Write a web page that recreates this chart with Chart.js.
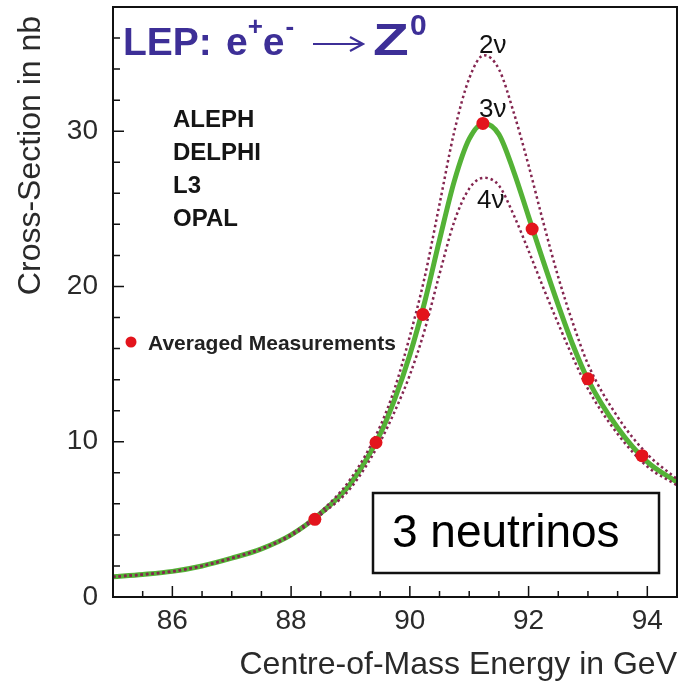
<!DOCTYPE html>
<html>
<head>
<meta charset="utf-8">
<script src="https://cdn.jsdelivr.net/npm/chart.js@4.4.0/dist/chart.umd.min.js"></script>
<style>
body { margin: 0; background: #fff; }
canvas { display: block; }
</style>
</head>
<body>
<canvas id="lepChart" width="679" height="685"></canvas>
<script>
var energy = [85.0, 85.5, 86.0, 86.5, 87.0, 87.5, 88.0, 88.5, 89.0, 89.5, 89.75, 90.0, 90.25, 90.5, 90.75, 91.0, 91.25, 91.5, 91.75, 92.0, 92.25, 92.5, 92.75, 93.0, 93.5, 94.0, 94.5];
var sigma3nu = [1.3, 1.45, 1.65, 2.0, 2.5, 3.1, 4.0, 5.4, 7.3, 10.5, 12.8, 15.6, 19.0, 23.0, 26.8, 29.5, 30.5, 29.8, 27.4, 24.5, 21.6, 18.8, 16.2, 14.0, 10.9, 8.7, 7.4];
var sigma2nu = [1.3, 1.45, 1.65, 2.0, 2.5, 3.1, 4.05, 5.5, 7.6, 11.0, 13.5, 16.8, 20.6, 25.3, 30.0, 33.4, 34.9, 34.0, 31.2, 27.8, 24.1, 20.6, 17.6, 15.0, 11.6, 9.2, 7.6];
var sigma4nu = [1.3, 1.45, 1.65, 2.0, 2.5, 3.1, 3.95, 5.3, 7.0, 10.0, 12.0, 14.3, 17.2, 20.8, 24.2, 26.3, 27.0, 26.5, 24.6, 22.3, 19.9, 17.6, 15.4, 13.4, 10.5, 8.4, 7.2];

// averaged LEP measurements
var measEnergy = [88.4, 89.43, 90.22, 91.23, 92.06, 93.0, 93.91];
var measSigma = [5.0, 9.95, 18.2, 30.5, 23.7, 14.05, 9.1];

var xTickValues = [86, 88, 90, 92, 94];
var yTickValues = [0, 10, 20, 30];
var experiments = ['ALEPH', 'DELPHI', 'L3', 'OPAL'];

var FONT = '"Liberation Sans", Arial, Helvetica, sans-serif';
var textColor = '#2a2a2a';
var titleColor = '#3d2f97';
var green = '#54b236';
var dotted = '#842650';
var red = '#e3141c';

function toPoints(xs, ys) {
    return xs.map(function(x, i) { return {x: x, y: ys[i]}; });
}

var decorations = {
    id: 'decorations',
    afterDraw: function(chart) {
        var ctx = chart.ctx;
        var a = chart.chartArea;
        var xs = chart.scales.x;
        var ys = chart.scales.y;
        ctx.save();

        // frame
        ctx.strokeStyle = '#111';
        ctx.lineWidth = 2;
        ctx.strokeRect(a.left, a.top, a.right - a.left, a.bottom - a.top);

        // inward ticks
        ctx.lineWidth = 1.5;
        ctx.beginPath();
        for (var v = 85.5; v < 94.5; v += 0.5) {
            var px = xs.getPixelForValue(v);
            var len = (v % 2 === 0) ? 11 : 6;
            ctx.moveTo(px, a.bottom);
            ctx.lineTo(px, a.bottom - len);
        }
        for (var w = 2; w <= 36; w += 2) {
            var py = ys.getPixelForValue(w);
            var len2 = (w % 10 === 0) ? 11 : 7;
            ctx.moveTo(a.left, py);
            ctx.lineTo(a.left + len2, py);
        }
        ctx.stroke();

        // title  LEP: e+e- -> Z0
        ctx.fillStyle = titleColor;
        ctx.strokeStyle = titleColor;
        ctx.textAlign = 'left';
        ctx.textBaseline = 'alphabetic';
        var x = 123, base = 55;
        ctx.font = 'bold 39px ' + FONT;
        ctx.fillText('LEP:', x, base);
        x = 226;
        ctx.fillText('e', x, base);
        x += ctx.measureText('e').width;
        ctx.font = 'bold 26px ' + FONT;
        ctx.fillText('+', x, 35);
        x += ctx.measureText('+').width;
        ctx.font = 'bold 39px ' + FONT;
        ctx.fillText('e', x, base);
        x += ctx.measureText('e').width;
        ctx.font = 'bold 26px ' + FONT;
        ctx.fillText('-', x + 1, 35);
        // arrow
        ctx.lineWidth = 2.2;
        ctx.beginPath();
        ctx.moveTo(313, 44);
        ctx.lineTo(362, 44);
        ctx.moveTo(350, 37);
        ctx.lineTo(363, 44);
        ctx.lineTo(350, 51);
        ctx.stroke();
        ctx.save();
        ctx.translate(373, base);
        ctx.scale(1.3, 1);
        ctx.font = 'bold 45px ' + FONT;
        ctx.fillText('Z', 0, 0);
        ctx.restore();
        ctx.font = 'bold 30px ' + FONT;
        ctx.fillText('0', 410, 35);

        // experiments
        ctx.fillStyle = '#151515';
        ctx.font = 'bold 24px ' + FONT;
        experiments.forEach(function(name, i) {
            ctx.fillText(name, 173, 127 + i * 33);
        });

        // legend entry
        ctx.fillStyle = red;
        ctx.beginPath();
        ctx.arc(131, 342, 5.5, 0, Math.PI * 2);
        ctx.fill();
        ctx.fillStyle = '#222';
        ctx.font = 'bold 21px ' + FONT;
        ctx.fillText('Averaged Measurements', 148, 350);

        // curve labels
        ctx.fillStyle = '#111';
        ctx.font = '26px ' + FONT;
        ctx.fillText('2\u03bd', 479, 53);
        ctx.fillText('3\u03bd', 479, 117);
        ctx.fillText('4\u03bd', 477, 208);

        // 3 neutrinos box
        ctx.fillStyle = '#fff';
        ctx.fillRect(373, 493, 286, 80);
        ctx.strokeStyle = '#111';
        ctx.lineWidth = 2.5;
        ctx.strokeRect(373, 493, 286, 80);
        ctx.fillStyle = '#000';
        ctx.font = '46px ' + FONT;
        ctx.fillText('3 neutrinos', 392, 547);

        ctx.restore();
    }
};

var ctx = document.getElementById('lepChart').getContext('2d');

var lepChart = new Chart(ctx, {
    type: 'scatter',
    data: {
        datasets: [{
            label: '3 nu',
            data: toPoints(energy, sigma3nu),
            showLine: true,
            borderColor: green,
            borderWidth: 5,
            pointRadius: 0,
            cubicInterpolationMode: 'monotone',
            order: 2
        }, {
            label: '2 nu',
            data: toPoints(energy, sigma2nu),
            showLine: true,
            borderColor: dotted,
            borderWidth: 2.5,
            borderDash: [2.5, 3],
            pointRadius: 0,
            cubicInterpolationMode: 'monotone',
            order: 1
        }, {
            label: '4 nu',
            data: toPoints(energy, sigma4nu),
            showLine: true,
            borderColor: dotted,
            borderWidth: 2.5,
            borderDash: [2.5, 3],
            pointRadius: 0,
            cubicInterpolationMode: 'monotone',
            order: 1
        }, {
            label: 'Averaged Measurements',
            data: toPoints(measEnergy, measSigma),
            pointRadius: 6.5,
            pointBackgroundColor: red,
            pointBorderWidth: 0,
            order: 0
        }]
    },
    options: {
        responsive: false,
        animation: false,
        layout: { autoPadding: false, padding: { top: 7, right: 2, left: 0, bottom: 0 } },
        plugins: {
            legend: { display: false },
            tooltip: { enabled: false }
        },
        scales: {
            x: {
                type: 'linear',
                min: 85,
                max: 94.5,
                afterFit: function(s) {
                    s.height = 88;
                    s.paddingLeft = 0;
                    s.paddingRight = 0;
                },
                afterBuildTicks: function(s) {
                    s.ticks = xTickValues.map(function(v) { return {value: v}; });
                },
                grid: { display: false, drawTicks: false },
                border: { display: false },
                ticks: { padding: 7, color: textColor, autoSkip: false, maxRotation: 0, font: { size: 28, family: FONT } },
                title: {
                    display: true,
                    text: 'Centre-of-Mass Energy in GeV',
                    align: 'end',
                    color: textColor,
                    font: { size: 32, family: FONT },
                    padding: { top: 0, bottom: 1 }
                }
            },
            y: {
                min: 0,
                max: 38,
                afterFit: function(s) {
                    s.width = 113;
                    s.paddingTop = 0;
                    s.paddingBottom = 0;
                },
                afterBuildTicks: function(s) {
                    s.ticks = yTickValues.map(function(v) { return {value: v}; });
                },
                grid: { display: false, drawTicks: false },
                border: { display: false },
                ticks: { padding: 15, color: textColor, autoSkip: false, font: { size: 28, family: FONT } },
                title: {
                    display: true,
                    text: 'Cross-Section in nb ',
                    align: 'end',
                    color: textColor,
                    font: { size: 32, family: FONT },
                    padding: { top: 12, bottom: 0 }
                }
            }
        }
    },
    plugins: [decorations]
});
</script>
</body>
</html>
